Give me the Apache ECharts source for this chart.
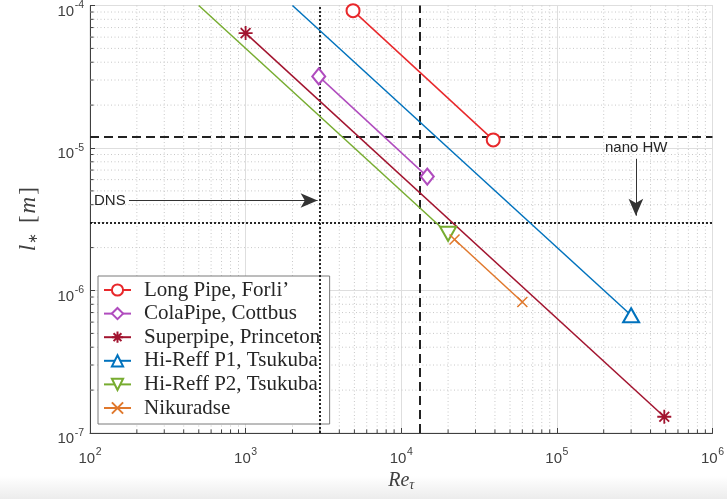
<!DOCTYPE html>
<html>
<head>
<meta charset="utf-8">
<script src="https://cdn.jsdelivr.net/npm/echarts@6/dist/echarts.min.js"></script>
<style>
  html, body { margin: 0; padding: 0; background: #fff; }
  #chart { width: 727px; height: 499px; }
</style>
</head>
<body>
<div id="chart"></div>
<script>
// data (Re_tau, l_* in m)
const longPipeRe = [4900, 39000];
const longPipeL = [9.2e-5, 1.14e-5];
const colaRe = [2950, 14700];
const colaL = [3.18e-5, 6.3e-6];
const superRe = [1000, 490000];
const superL = [6.4e-5, 1.3e-7];
const p1Re = [2000, 300000];
const p1L = [1e-4, 6.7e-7];
const p2Re = [500, 20000];
const p2L = [1e-4, 2.5e-6];
const nikRe = [22000, 60000];
const nikL = [2.28e-6, 8.3e-7];

// reference lines
const dnsRe = 3000;
const cutRe = 13200;
const cutL = 1.2e-5;
const nanoL = 3e-6;

// axis extents
const reMin = 100, reMax = 1e6;
const lMin = 1e-7, lMax = 1e-4;

// minor grid values
const xMinor = [];
for (let d = 100; d < 1e6; d *= 10) for (let k = 2; k <= 9; k++) xMinor.push(d * k);
const yMinor = [];
for (let d = 1e-7; d < 0.99e-4; d *= 10) for (let k = 2; k <= 9; k++) yMinor.push(d * k);

const starPath = 'path://M0,-10L0,10M-10,0L10,0M-7,-7L7,7M-7,7L7,-7';
const crossPath = 'path://M-10,-10L10,10M-10,10L10,-10';

function zip(a, b) { return a.map((v, i) => [v, b[i]]); }

function supLabel(v) {
  return '{b|10}{s|' + Math.round(Math.log10(v)) + '}';
}
const labelRich = {
  b: { fontFamily: 'Liberation Sans', fontSize: 15, color: '#404040', lineHeight: 19, verticalAlign: 'bottom' },
  s: { fontFamily: 'Liberation Sans', fontSize: 10.5, color: '#404040', lineHeight: 10, verticalAlign: 'top', padding: [0, 0, 0, 0.5] }
};

var myChart = echarts.init(document.getElementById('chart'));

function lineSeries(name, re, l, color, symbol, size, extra) {
  const data = zip(re, l).map((p) => ({ value: p }));
  return Object.assign({
    name: name,
    type: 'line',
    data: data,
    symbol: symbol,
    symbolSize: size,
    showAllSymbol: true,
    clip: true,
    z: 5,
    lineStyle: { color: color, width: 1.5 },
    itemStyle: { color: color, borderColor: color, borderWidth: 1.5 },
    emphasis: { disabled: true }
  }, extra || {});
}

const dotted = { color: '#111', type: [2, 2], width: 1.8 };
const dashed = { color: '#222', type: [9, 5], width: 2 };
const arrowLine = { color: '#333', width: 1, type: 'solid' };

const s1 = lineSeries("Long Pipe, Forli\u2019", longPipeRe, longPipeL, '#e8282b', 'emptyCircle', 13);
s1.markLine = {
  silent: true,
  symbol: 'none',
  label: { show: false },
  data: [
    [{ coord: [dnsRe, lMin], lineStyle: dotted }, { coord: [dnsRe, lMax] }],
    [{ coord: [cutRe, lMin], lineStyle: dashed }, { coord: [cutRe, lMax] }],
    [{ coord: [reMin, cutL], lineStyle: dashed }, { coord: [reMax, cutL] }],
    [{ coord: [reMin, nanoL], lineStyle: dotted }, { coord: [reMax, nanoL] }],
    [
      { coord: [178, 4.28e-6], symbol: 'none', lineStyle: arrowLine },
      { coord: [2900, 4.28e-6], symbol: 'arrow', symbolSize: [11, 17] }
    ],
    [
      { coord: [322000, 8.4e-6], symbol: 'none', lineStyle: arrowLine },
      { coord: [322000, 3.35e-6], symbol: 'arrow', symbolSize: [11, 17] }
    ]
  ]
};

const s2 = lineSeries('ColaPipe, Cottbus', colaRe, colaL, '#b04cbe', 'emptyDiamond', [13, 16]);
const s3 = lineSeries('Superpipe, Princeton', superRe, superL, '#a2142f', starPath, 14,
  { itemStyle: { color: 'transparent', borderColor: '#a2142f', borderWidth: 1.8 } });
const s4 = lineSeries('Hi-Reff P1, Tsukuba', p1Re, p1L, '#0072bd', 'emptyTriangle', [16, 14]);
s4.data[0].symbol = 'none';
const s5 = lineSeries('Hi-Reff P2, Tsukuba', p2Re, p2L, '#77ac30', 'emptyTriangle', [16, 14], { symbolRotate: 180 });
s5.data[0].symbol = 'none';
const s6 = lineSeries('Nikuradse', nikRe, nikL, '#e0782c', crossPath, 10,
  { itemStyle: { color: 'transparent', borderColor: '#e0782c', borderWidth: 1.5 } });

// minor grid lines and minor ticks drawn through the axes
const minorX = {
  type: 'custom',
  silent: true,
  z: 1,
  data: xMinor.map((v) => [v, lMin]),
  renderItem: function (params, api) {
    const cs = params.coordSys;
    const x = api.coord([api.value(0), lMin])[0];
    return {
      type: 'group',
      children: [
        { type: 'line', shape: { x1: x, y1: cs.y, x2: x, y2: cs.y + cs.height },
          style: { stroke: '#c8c8c8', lineWidth: 1, lineDash: [1, 2.5] } },
        { type: 'line', shape: { x1: x, y1: cs.y + cs.height, x2: x, y2: cs.y + cs.height - 3.5 },
          style: { stroke: '#404040', lineWidth: 1 } }
      ]
    };
  }
};
const minorY = {
  type: 'custom',
  silent: true,
  z: 1,
  data: yMinor.map((v) => [reMin, v]),
  renderItem: function (params, api) {
    const cs = params.coordSys;
    const y = api.coord([reMin, api.value(1)])[1];
    return {
      type: 'group',
      children: [
        { type: 'line', shape: { x1: cs.x, y1: y, x2: cs.x + cs.width, y2: y },
          style: { stroke: '#c8c8c8', lineWidth: 1, lineDash: [1, 2.5] } },
        { type: 'line', shape: { x1: cs.x, y1: y, x2: cs.x + 3.5, y2: y },
          style: { stroke: '#404040', lineWidth: 1 } }
      ]
    };
  }
};

var option = {
  animation: false,
  backgroundColor: '#fff',
  grid: {
    left: 90, right: 14, top: 5, bottom: 66,
    show: true, borderColor: '#d6d6d6', borderWidth: 1, backgroundColor: 'transparent'
  },
  legend: {
    orient: 'vertical',
    left: 98,
    top: 276,
    data: [s1.name, s2.name, s3.name, s4.name, s5.name, s6.name],
    itemWidth: 27,
    itemHeight: 14,
    itemGap: 2.6,
    padding: [3.5, 9.5, 5.5, 5],
    borderColor: '#7a7a7a',
    borderWidth: 1,
    borderRadius: 0,
    backgroundColor: '#fff',
    selectedMode: false,
    textStyle: { fontFamily: 'Liberation Serif', fontSize: 21, color: '#262626', padding: [0, 0, 0, 8] }
  },
  xAxis: {
    type: 'log',
    logBase: 10,
    min: reMin,
    max: reMax,
    name: '{i|Re}{sub|\u03c4}',
    nameLocation: 'middle',
    nameGap: 36,
    nameTextStyle: {
      rich: {
        i: { fontFamily: 'Liberation Serif', fontStyle: 'italic', fontSize: 20, color: '#404040' },
        sub: { fontFamily: 'Liberation Serif', fontStyle: 'italic', fontSize: 14, color: '#404040', verticalAlign: 'bottom', padding: [8, 0, 0, 0] }
      }
    },
    axisLine: { lineStyle: { color: '#404040', width: 1 } },
    axisTick: { inside: true, length: 5, lineStyle: { color: '#404040' } },
    axisLabel: { formatter: supLabel, rich: labelRich, margin: 14 },
    splitLine: { show: true, lineStyle: { color: '#dedede', width: 1 } }
  },
  yAxis: {
    type: 'log',
    logBase: 10,
    min: lMin,
    max: lMax,
    name: '{i|l}{sub|\u2217}{r|[}{i|m}{r|]}',
    nameLocation: 'middle',
    nameGap: 50,
    nameTextStyle: {
      rich: {
        i: { fontFamily: 'Liberation Serif', fontStyle: 'italic', fontSize: 23, color: '#404040', padding: [0, 1, 0, 1] },
        r: { fontFamily: 'Liberation Serif', fontSize: 23, color: '#404040', padding: [0, 1, 0, 1] },
        sub: { fontFamily: 'DejaVu Sans', fontSize: 13, color: '#404040', verticalAlign: 'bottom', padding: [10, 9, 0, 0] }
      }
    },
    axisLine: { lineStyle: { color: '#404040', width: 1 } },
    axisTick: { inside: true, length: 5, lineStyle: { color: '#404040' } },
    axisLabel: { formatter: supLabel, rich: labelRich, margin: 6, padding: [8, 0, 0, 0] },
    splitLine: { show: true, lineStyle: { color: '#dedede', width: 1 } }
  },
  graphic: [
    {
      type: 'rect', silent: true, z: -10,
      shape: { x: 0, y: 476, width: 727, height: 23 },
      style: { fill: new echarts.graphic.LinearGradient(0, 0, 0, 1, [
        { offset: 0, color: '#ffffff' }, { offset: 1, color: '#ececec' }]) }
    },
    {
      type: 'text', left: 94, top: 193, z: 10,
      style: { text: 'DNS', fontFamily: 'Liberation Sans', fontSize: 15, fill: '#262626' }
    },
    {
      type: 'text', left: 605, top: 140, z: 10,
      style: { text: 'nano HW', fontFamily: 'Liberation Sans', fontSize: 15, fill: '#262626' }
    }
  ],
  series: [minorX, minorY, s1, s2, s3, s4, s5, s6]
};

myChart.setOption(option);
</script>
</body>
</html>
